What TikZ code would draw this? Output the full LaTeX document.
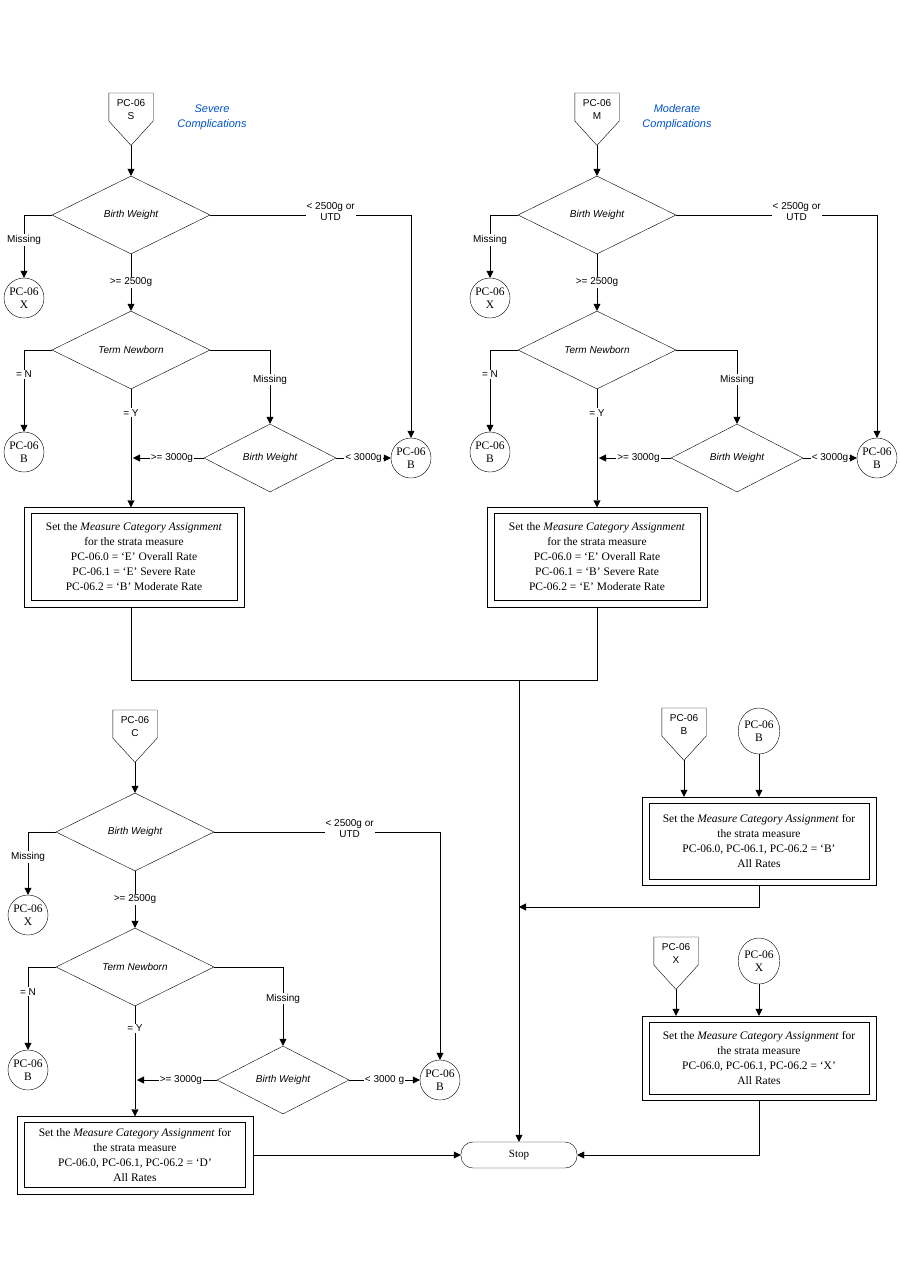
\documentclass[tikz,border=0pt]{standalone}
\usepackage{fontspec}
\setmainfont{Liberation Serif}
\newfontfamily\sans{Liberation Sans}
\usetikzlibrary{shapes.geometric,arrows.meta,calc}
\begin{document}
\begin{tikzpicture}[x=1pt,y=-1pt,
  every node/.style={font=\sans\fontsize{10}{11}\selectfont},
  ar/.style={draw,-{Triangle[length=7,width=7]}},
  ln/.style={draw},
  dia/.style={draw,diamond,aspect=2,inner sep=0,minimum width=158,minimum height=78,font=\sans\itshape\fontsize{10}{11}\selectfont},
  dia2/.style={dia,minimum width=132,minimum height=68},
  con/.style={draw,circle,minimum size=40,inner sep=0,align=center,font=\fontsize{11.5}{13}\selectfont},
  conx/.style={draw,ellipse,minimum width=40,minimum height=46,inner sep=0,align=center,font=\fontsize{11.5}{13}\selectfont},
  offp/.style={inner sep=0,align=center,minimum width=44,minimum height=52,font=\sans\fontsize{10}{13}\selectfont},
  lbl/.style={fill=white,inner sep=1,align=center},
  box/.style={draw,align=center,inner sep=2,font=\fontsize{11.5}{15}\selectfont},
  note/.style={font=\sans\itshape\fontsize{11}{15}\selectfont,text=blue!60!cyan!80!black,align=center},
  stopn/.style={draw,rounded corners=12,minimum width=116,minimum height=26,font=\fontsize{11}{12}\selectfont}
]
\useasboundingbox (0,0) rectangle (900,1286);
\newcommand{\offpage}[4]{% name, x, ytop, text
  \node[offp,anchor=north] (#1) at (#2,#3) {#4\\[6pt]};
  \draw (#1.north west) -- (#1.north east) -- ($(#1.north east)+(0,28)$) -- (#1.south) -- ($(#1.north west)+(0,28)$) -- cycle;}
\newcommand{\outerframe}[1]{%
  \draw ([xshift=-7pt,yshift=6pt]#1.north west) rectangle ([xshift=7pt,yshift=-6pt]#1.south east);}

% ===== Column S =====
\offpage{s}{131}{93}{PC-06\\S}
\node[note] (sn) at (212,117) {Severe\\Complications};
\node[dia] (bw1) at (131,215) {Birth Weight};
\node[con] (sx) at (24,298) {PC-06\\X};
\node[con] (sb2) at (411,458) {PC-06\\B};
\node[dia] (tn1) at (131,350) {Term Newborn};
\node[con] (sb1) at (24,452) {PC-06\\B};
\node[dia2] (bwb1) at (270,458) {Birth Weight};
\node[box,minimum width=206,minimum height=87] (bxs) at (134,557) {Set the \textit{Measure Category Assignment}\\for the strata measure\\PC-06.0 = ‘E’ Overall Rate\\PC-06.1 = ‘E’ Severe Rate\\PC-06.2 = ‘B’ Moderate Rate};
\outerframe{bxs}
\draw[ar] (s.south) -- (bw1.north);
\draw[ar] (bw1.west) -| (sx.north) node[lbl,pos=0.7] {Missing};
\draw[ar] (bw1.east) -| (sb2.north) node[lbl,pos=0.3,yshift=3] {< 2500g or\\UTD};
\draw[ar] (bw1.south) -- (tn1.north) node[lbl,midway] {>= 2500g};
\draw[ar] (tn1.west) -| (sb1.north) node[lbl,pos=0.65] {= N};
\draw[ar] (tn1.east) -| (bwb1.north) node[lbl,pos=0.7] {Missing};
\draw[ar] (tn1.south) -- ([yshift=6pt]bxs.north -| tn1.south) node[lbl,pos=0.2] {= Y};
\coordinate (sy) at (133,458);
\draw[ar] (bwb1.west) -- (sy) node[lbl,pos=0.45] {>= 3000g};
\draw[ar] (bwb1.east) -- (sb2.west) node[lbl,pos=0.5] {< 3000g};

% ===== Column M =====
\offpage{m}{597}{93}{PC-06\\M}
\node[note] (mn) at (677,117) {Moderate\\Complications};
\node[dia] (bw2) at (597,215) {Birth Weight};
\node[con] (mx) at (490,298) {PC-06\\X};
\node[con] (mb2) at (877,458) {PC-06\\B};
\node[dia] (tn2) at (597,350) {Term Newborn};
\node[con] (mb1) at (490,452) {PC-06\\B};
\node[dia2] (bwb2) at (737,458) {Birth Weight};
\node[box,minimum width=206,minimum height=87] (bxm) at (597,557) {Set the \textit{Measure Category Assignment}\\for the strata measure\\PC-06.0 = ‘E’ Overall Rate\\PC-06.1 = ‘B’ Severe Rate\\PC-06.2 = ‘E’ Moderate Rate};
\outerframe{bxm}
\draw[ar] (m.south) -- (bw2.north);
\draw[ar] (bw2.west) -| (mx.north) node[lbl,pos=0.7] {Missing};
\draw[ar] (bw2.east) -| (mb2.north) node[lbl,pos=0.3,yshift=3] {< 2500g or\\UTD};
\draw[ar] (bw2.south) -- (tn2.north) node[lbl,midway] {>= 2500g};
\draw[ar] (tn2.west) -| (mb1.north) node[lbl,pos=0.65] {= N};
\draw[ar] (tn2.east) -| (bwb2.north) node[lbl,pos=0.7] {Missing};
\draw[ar] (tn2.south) -- ([yshift=6pt]bxm.north -| tn2.south) node[lbl,pos=0.2] {= Y};
\coordinate (my) at (599,458);
\draw[ar] (bwb2.west) -- (my) node[lbl,pos=0.45] {>= 3000g};
\draw[ar] (bwb2.east) -- (mb2.west) node[lbl,pos=0.5] {< 3000g};

% ===== Stop and merges =====
\node[stopn] (stop) at (519,1155) {Stop};
\coordinate (j1) at (519,680);
\draw[ln] ([yshift=-6pt]bxs.south -| tn1.south) |- (j1);
\draw[ln] ([yshift=-6pt]bxm.south -| tn2.south) |- (j1);
\draw[ar] (j1) -- (stop.north);

% ===== Column C =====
\offpage{c}{135}{710}{PC-06\\C}
\node[dia] (bw3) at (135,832) {Birth Weight};
\node[con] (cx) at (28,915) {PC-06\\X};
\node[con] (cb2) at (440,1080) {PC-06\\B};
\node[dia] (tn3) at (135,967) {Term Newborn};
\node[con] (cb1) at (28,1070) {PC-06\\B};
\node[dia2] (bwb3) at (283,1080) {Birth Weight};
\node[box,minimum width=221,minimum height=65] (bxc) at (135,1155) {Set the \textit{Measure Category Assignment} for\\the strata measure\\PC-06.0, PC-06.1, PC-06.2 = ‘D’\\All Rates};
\outerframe{bxc}
\draw[ar] (c.south) -- (bw3.north);
\draw[ar] (bw3.west) -| (cx.north) node[lbl,pos=0.7] {Missing};
\draw[ar] (bw3.east) -| (cb2.north) node[lbl,pos=0.3,yshift=3] {< 2500g or\\UTD};
\draw[ar] (bw3.south) -- (tn3.north) node[lbl,midway] {>= 2500g};
\draw[ar] (tn3.west) -| (cb1.north) node[lbl,pos=0.65] {= N};
\draw[ar] (tn3.east) -| (bwb3.north) node[lbl,pos=0.7] {Missing};
\draw[ar] (tn3.south) -- ([yshift=6pt]bxc.north -| tn3.south) node[lbl,pos=0.2] {= Y};
\coordinate (cy) at (137,1080);
\draw[ar] (bwb3.west) -- (cy) node[lbl,pos=0.45] {>= 3000g};
\draw[ar] (bwb3.east) -- (cb2.west) node[lbl,pos=0.5] {< 3000 g};
\draw[ar] ([xshift=7pt]bxc.east) -- (stop.west);

% ===== Right groups =====
\offpage{rb}{684}{708}{PC-06\\B}
\node[conx] (rbc) at (759,731) {PC-06\\B};
\node[box,minimum width=220,minimum height=76] (bxb) at (759,841) {Set the \textit{Measure Category Assignment} for\\the strata measure\\PC-06.0, PC-06.1, PC-06.2 = ‘B’\\All Rates};
\outerframe{bxb}
\draw[ar] (rb.south) -- ([yshift=6pt]bxb.north -| rb.south);
\draw[ar] (rbc.south) -- ([yshift=6pt]bxb.north);
\coordinate (j2) at (519,907);
\draw[ar] ([yshift=-6pt]bxb.south) |- (j2);

\offpage{rx}{676}{937}{PC-06\\X}
\node[conx] (rxc) at (759,961) {PC-06\\X};
\node[box,minimum width=220,minimum height=72] (bxx) at (759,1058) {Set the \textit{Measure Category Assignment} for\\the strata measure\\PC-06.0, PC-06.1, PC-06.2 = ‘X’\\All Rates};
\outerframe{bxx}
\draw[ar] (rx.south) -- ([yshift=6pt]bxx.north -| rx.south);
\draw[ar] (rxc.south) -- ([yshift=6pt]bxx.north);
\draw[ar] ([yshift=-6pt]bxx.south) |- (stop.east);
\end{tikzpicture}
\end{document}
